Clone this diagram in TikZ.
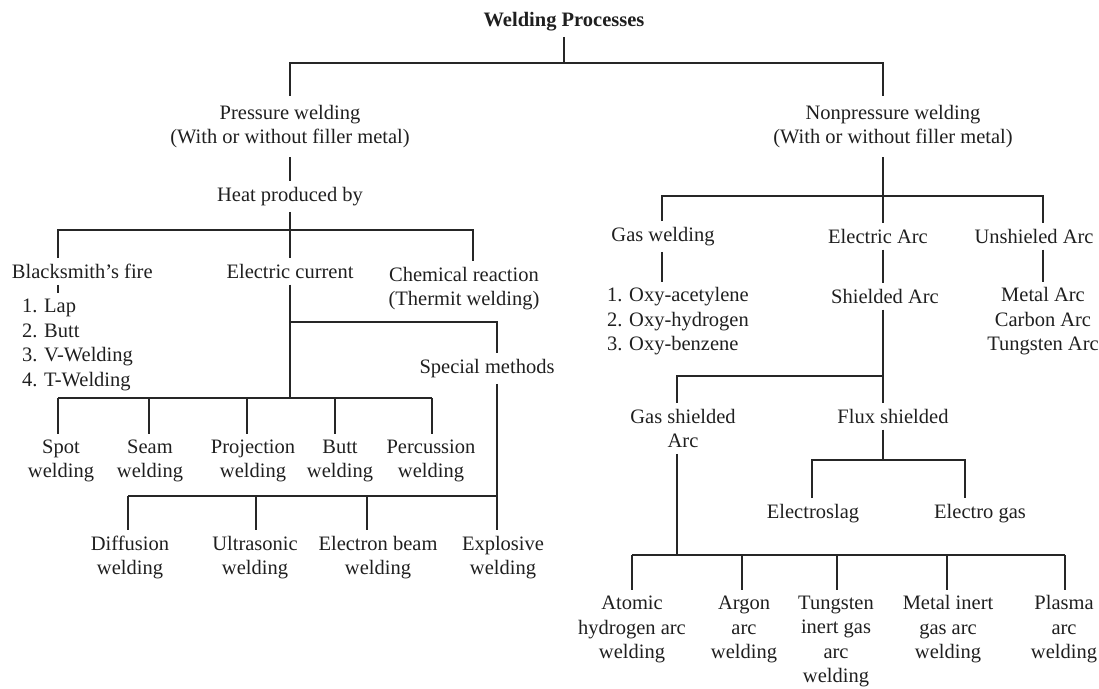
\documentclass[tikz,border=0pt]{standalone}
\usepackage{fontspec}
\setmainfont{Liberation Serif}
\begin{document}
\begin{tikzpicture}[x=1pt,y=-1pt,
  t/.style={font=\fontsize{20.5}{24.5}\selectfont, inner sep=0pt, outer sep=0pt, outer ysep=6pt, align=center, text=black!88, yshift=-1.5pt},
  ln/.style={line width=1.35pt, draw=black!85}]
\useasboundingbox (0,0) rectangle (1099,688);

% ---------- nodes ----------
\node[t, font=\bfseries\fontsize{20.5}{24.5}\selectfont] (wp) at (564,20) {Welding Processes};
\node[t, outer ysep=9pt] (pw) at (290,125) {Pressure welding\\(With or without filler metal)};
\node[t] (hp) at (290,195) {Heat produced by};
\node[t, anchor=west] (bf) at (12,270) {Blacksmith's fire};
\node[t, anchor=west, align=left] (bl) at (22,343.5) {1. Lap\\2. Butt\\3. V-Welding\\4. T-Welding};
\node[t] (ec) at (290,270) {Electric current};
\node[t] (ch) at (464,287) {Chemical reaction\\(Thermit welding)};
\node[t] (sm) at (487,367) {Special methods};
\node[t] (spot) at (61,459.5) {Spot\\welding};
\node[t] (seam) at (150,459.5) {Seam\\welding};
\node[t] (proj) at (253,459.5) {Projection\\welding};
\node[t] (butt) at (340,459.5) {Butt\\welding};
\node[t] (perc) at (431,459.5) {Percussion\\welding};
\node[t] (diff) at (130,556) {Diffusion\\welding};
\node[t] (ultr) at (255,556) {Ultrasonic\\welding};
\node[t] (ebw) at (378,556) {Electron beam\\welding};
\node[t] (expl) at (503,556) {Explosive\\welding};

\node[t, outer ysep=9pt] (np) at (893,125) {Nonpressure welding\\(With or without filler metal)};
\node[t] (gw) at (663,235) {Gas welding};
\node[t] (ea) at (878,235) {Electric Arc};
\node[t] (ua) at (1034,235) {Unshieled Arc};
\node[t, anchor=west, align=left] (ox) at (607,320) {1. Oxy-acetylene\\2. Oxy-hydrogen\\3. Oxy-benzene};
\node[t] (sa) at (885,295) {Shielded Arc};
\node[t] (ma) at (1043,320) {Metal Arc\\Carbon Arc\\Tungsten Arc};
\node[t] (gs) at (683,427) {Gas shielded\\Arc};
\node[t] (fs) at (893,415) {Flux shielded};
\node[t] (es) at (813,512) {Electroslag};
\node[t] (eg) at (980,512) {Electro gas};
\node[t] (ah) at (632,628) {Atomic\\hydrogen arc\\welding};
\node[t] (ar) at (744,628) {Argon\\arc\\welding};
\node[t] (tg) at (836,640) {Tungsten\\inert gas\\arc\\welding};
\node[t] (mg) at (948,628) {Metal inert\\gas arc\\welding};
\node[t] (pa) at (1064,628) {Plasma\\arc\\welding};

% ---------- junction coordinates ----------
\coordinate (j0) at (564,63);
\coordinate (j0L) at (290,63);
\coordinate (j0R) at (883,63);
\coordinate (j1) at (290,230);
\coordinate (j1L) at (58,230);
\coordinate (j1R) at (473,230);
\coordinate (j2) at (290,322);
\coordinate (j2R) at (497,322);
\coordinate (j3) at (290,398);
\coordinate (d1) at (58,398);
\coordinate (d2) at (149,398);
\coordinate (d3) at (247,398);
\coordinate (d4) at (335,398);
\coordinate (d5) at (432,398);
\coordinate (k0) at (497,496);
\coordinate (k1) at (128,496);
\coordinate (k2) at (256,496);
\coordinate (k3) at (367,496);

\coordinate (r1) at (883,196);
\coordinate (r1L) at (662,196);
\coordinate (r1R) at (1043,196);
\coordinate (r2) at (883,376);
\coordinate (r2L) at (677,376);
\coordinate (r3) at (883,460);
\coordinate (r3L) at (812,460);
\coordinate (r3R) at (965,460);
\coordinate (r4) at (677,555);
\coordinate (b1) at (632,555);
\coordinate (b2) at (742,555);
\coordinate (b3) at (837,555);
\coordinate (b4) at (947,555);
\coordinate (b5) at (1065,555);

% ---------- connectors: left ----------
\draw[ln] (wp.south) -- (j0);
\draw[ln] (j0L |- pw.north) -- (j0L) -- (j0R) -- (j0R |- np.north);
\draw[ln] (pw.south) -- (hp.north);
\draw[ln] (hp.south) -- (j1);
\draw[ln] (j1L |- bf.north) -- (j1L) -- (j1R) -- (j1R |- ch.north);
\draw[ln] (j1) -- (ec.north);
\draw[ln] (j1L |- bf.south) -- (j1L |- bl.north);
\draw[ln] (ec.south) -- (j3);
\draw[ln] (j2) -- (j2R) -- (j2R |- sm.north);
\draw[ln] (d1) -- (d5);
\draw[ln] (d1) -- (d1 |- spot.north);
\draw[ln] (d2) -- (d2 |- seam.north);
\draw[ln] (d3) -- (d3 |- proj.north);
\draw[ln] (d4) -- (d4 |- butt.north);
\draw[ln] (d5) -- (d5 |- perc.north);
\draw[ln] (j2R |- sm.south) -- (j2R |- expl.north);
\draw[ln] (k1) -- (k0);
\draw[ln] (k1) -- (k1 |- diff.north);
\draw[ln] (k2) -- (k2 |- ultr.north);
\draw[ln] (k3) -- (k3 |- ebw.north);

% ---------- connectors: right ----------
\draw[ln] (r1 |- np.south) -- (r1);
\draw[ln] (r1L |- gw.north) -- (r1L) -- (r1R) -- (r1R |- ua.north);
\draw[ln] (r1) -- (r1 |- ea.north);
\draw[ln] (r1L |- gw.south) -- (r1L |- ox.north);
\draw[ln] (r1 |- ea.south) -- (r1 |- sa.north);
\draw[ln] (r1R |- ua.south) -- (r1R |- ma.north);
\draw[ln] (r1 |- sa.south) -- (r1 |- fs.north);
\draw[ln] (r2) -- (r2L) -- (r2L |- gs.north);
\draw[ln] (r1 |- fs.south) -- (r3);
\draw[ln] (r3L |- es.north) -- (r3L) -- (r3R) -- (r3R |- eg.north);
\draw[ln] (r2L |- gs.south) -- (r4);
\draw[ln] (b1) -- (b5);
\draw[ln] (b1) -- (b1 |- ah.north);
\draw[ln] (b2) -- (b2 |- ar.north);
\draw[ln] (b3) -- (b3 |- tg.north);
\draw[ln] (b4) -- (b4 |- mg.north);
\draw[ln] (b5) -- (b5 |- pa.north);
\end{tikzpicture}
\end{document}
